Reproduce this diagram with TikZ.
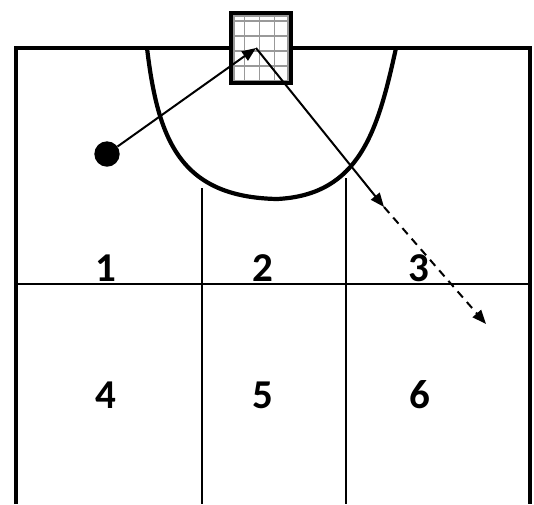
\documentclass[tikz,border=0pt]{standalone}
\usepackage{fontspec}
\setmainfont{Carlito}
\usetikzlibrary{arrows.meta}
\tikzset{
  court line/.style={line width=4.2pt},
  zone line/.style={line width=2.8pt},
  zone label/.style={
    font=\bfseries\fontsize{41}{43}\selectfont,
    anchor=base,
    inner sep=0pt
  },
  ball mark/.style={
    circle,
    fill=black,
    minimum size=25.4pt,
    inner sep=0pt
  },
  net line/.style={black!40, line width=1.4pt},
  goal frame/.style={
    draw,
    line width=4pt,
    fill=white,
    minimum width=59.5pt,
    minimum height=70.2pt,
    inner sep=0pt,
    path picture={
      \foreach \gx in {-16.7,-1.7,13.3}
        \draw[net line] ([xshift=\gx pt]path picture bounding box.north)
          -- ([xshift=\gx pt]path picture bounding box.south);
      \foreach \gy in {27.1,12.1,-2.9,-17.9}
        \draw[net line] ([yshift=\gy pt]path picture bounding box.west)
          -- ([yshift=\gy pt]path picture bounding box.east);
      \draw[net line]
        ([shift={(2.8pt,2.8pt)}]path picture bounding box.south west)
        rectangle ([shift={(-2.8pt,-2.8pt)}]path picture bounding box.north east);
    }
  },
  shot arr/.style={-{Triangle[length=14pt, width=11pt]}, line width=2pt},
  run arr/.style={shot arr, dash pattern=on 8pt off 6pt}
}

\begin{document}
\begin{tikzpicture}[x=1pt, y=-1pt]
  \useasboundingbox (0,0) rectangle (534,504);

  % court and zones
  \draw[court line] (16,504) -- (16,48) -- (530,48) -- (530,504);
  \draw[zone line] (16,284) -- (530,284);
  \draw[zone line] (202,188) -- (202,504);
  \draw[zone line] (346,178) -- (346,504);
  \draw[court line] (147,48) .. controls (158,140) and (180,197) .. (277,199)
    .. controls (360,195) and (378,130) .. (396,48);

  % goal
  \node[goal frame] (goal) at (261,48.1) {};

  \node[zone label] (z1) at (106,281) {1};
  \node[zone label] (z2) at (263,281) {2};
  \node[zone label] (z3) at (419,281) {3};
  \node[zone label] (z4) at (106,408) {4};
  \node[zone label] (z5) at (263,408) {5};
  \node[zone label] (z6) at (420,408) {6};

  % ball and paths
  \node[ball mark] (ball) at (107,154) {};
  \coordinate (aim) at (256,48);
  \coordinate (rebound) at (384,207);
  \coordinate (runout) at (486,324);
  \draw[shot arr] (ball) -- (aim);
  \draw[shot arr] (aim) -- (rebound);
  \draw[run arr] (rebound) -- (runout);
\end{tikzpicture}
\end{document}
